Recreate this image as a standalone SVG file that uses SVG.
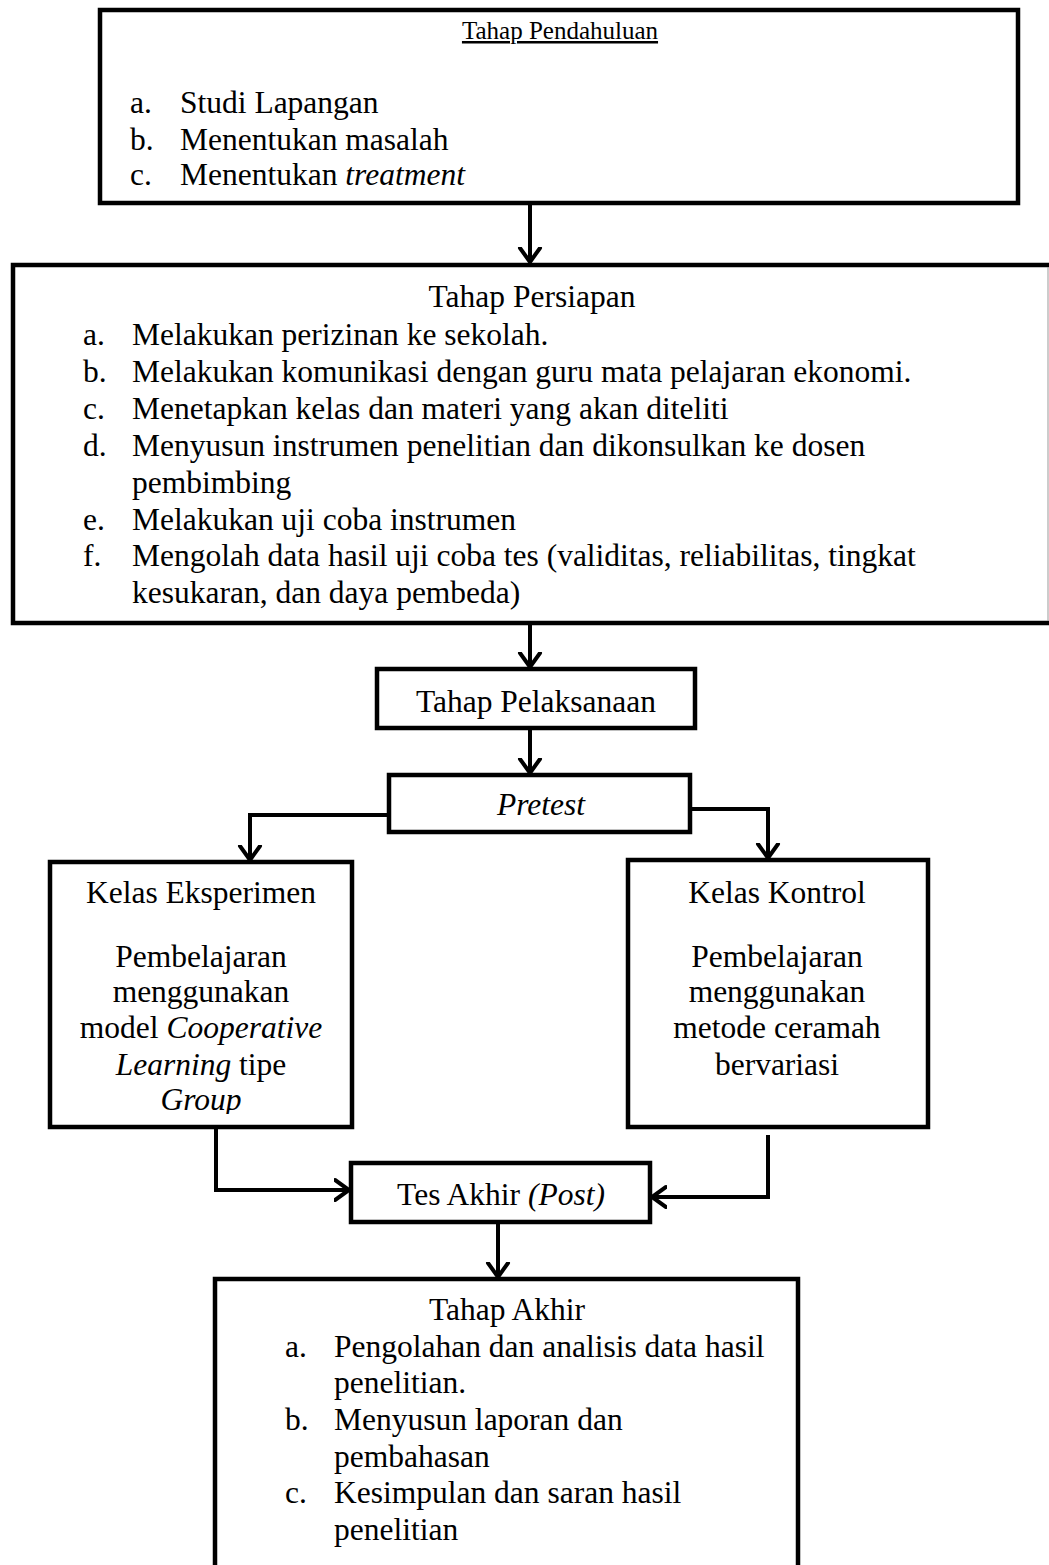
<svg xmlns="http://www.w3.org/2000/svg" width="1049" height="1565" viewBox="0 0 1049 1565">
<style>
.box{fill:#fff;stroke:#000;stroke-width:4.5}
.t{font-family:"Liberation Serif","Times New Roman",serif;font-size:31.5px;fill:#000}
.c{text-anchor:middle}
.i{font-style:italic}
.con{fill:none;stroke:#000;stroke-width:4}
</style>
<defs>
<marker id="ah" markerUnits="userSpaceOnUse" markerWidth="30" markerHeight="30" viewBox="-15 -15 30 30" refX="0" refY="0" orient="auto">
<path d="M-14,-10 L0,0 L-14,10" fill="none" stroke="#000" stroke-width="4" stroke-linecap="round" stroke-linejoin="miter"/>
</marker>
<clipPath id="clipG"><rect x="50" y="862" width="302" height="252"/></clipPath>
</defs>
<rect width="1049" height="1565" fill="#fff"/>

<g id="pendahuluan">
<rect class="box" x="100" y="10" width="918" height="193"/>
<text class="t c" x="560" y="39" style="font-size:25px" text-decoration="underline">Tahap Pendahuluan</text>
<text class="t" x="130" y="113">a.</text><text class="t" x="180" y="113">Studi Lapangan</text>
<text class="t" x="130" y="150">b.</text><text class="t" x="180" y="150">Menentukan masalah</text>
<text class="t" x="130" y="185">c.</text><text class="t" x="180" y="185">Menentukan <tspan class="i">treatment</tspan></text>
</g>

<g id="persiapan">
<rect class="box" x="13" y="265" width="1060" height="358"/>
<line x1="1048" y1="267" x2="1048" y2="621" stroke="#999" stroke-width="1"/>
<text class="t c" x="532" y="307">Tahap Persiapan</text>
<text class="t" x="83" y="345">a.</text><text class="t" x="132" y="345">Melakukan perizinan ke sekolah.</text>
<text class="t" x="83" y="382">b.</text><text class="t" x="132" y="382">Melakukan komunikasi dengan guru mata pelajaran ekonomi.</text>
<text class="t" x="83" y="419">c.</text><text class="t" x="132" y="419">Menetapkan kelas dan materi yang akan diteliti</text>
<text class="t" x="83" y="456">d.</text><text class="t" x="132" y="456">Menyusun instrumen penelitian dan dikonsulkan ke dosen</text>
<text class="t" x="132" y="493">pembimbing</text>
<text class="t" x="83" y="530">e.</text><text class="t" x="132" y="530">Melakukan uji coba instrumen</text>
<text class="t" x="83" y="566">f.</text><text class="t" x="132" y="566">Mengolah data hasil uji coba tes (validitas, reliabilitas, tingkat</text>
<text class="t" x="132" y="603">kesukaran, dan daya pembeda)</text>
</g>

<g id="pelaksanaan">
<rect class="box" x="377" y="669" width="318" height="59"/>
<text class="t c" x="536" y="712">Tahap Pelaksanaan</text>
</g>

<g id="pretest">
<rect class="box" x="389" y="775" width="301" height="57"/>
<text class="t c i" x="541" y="815">Pretest</text>
</g>

<g id="eksperimen">
<rect class="box" x="50" y="862" width="302" height="265"/>
<text class="t c" x="201" y="903">Kelas Eksperimen</text>
<text class="t c" x="201" y="967">Pembelajaran</text>
<text class="t c" x="201" y="1002">menggunakan</text>
<text class="t c" x="201" y="1038">model <tspan class="i">Cooperative</tspan></text>
<text class="t c" x="201" y="1075"><tspan class="i">Learning</tspan> tipe</text>
<text class="t c i" x="201" y="1110" clip-path="url(#clipG)">Group</text>
</g>

<g id="kontrol">
<rect class="box" x="628" y="860" width="300" height="267"/>
<text class="t c" x="777" y="903">Kelas Kontrol</text>
<text class="t c" x="777" y="967">Pembelajaran</text>
<text class="t c" x="777" y="1002">menggunakan</text>
<text class="t c" x="777" y="1038">metode ceramah</text>
<text class="t c" x="777" y="1075">bervariasi</text>
</g>

<g id="tesakhir">
<rect class="box" x="351" y="1163" width="299" height="59"/>
<text class="t c" x="501" y="1205">Tes Akhir <tspan class="i">(Post)</tspan></text>
</g>

<g id="akhir">
<rect class="box" x="215" y="1279" width="583" height="320"/>
<text class="t c" x="507" y="1320">Tahap Akhir</text>
<text class="t" x="285" y="1357">a.</text><text class="t" x="334" y="1357">Pengolahan dan analisis data hasil</text>
<text class="t" x="334" y="1393">penelitian.</text>
<text class="t" x="285" y="1430">b.</text><text class="t" x="334" y="1430">Menyusun laporan dan</text>
<text class="t" x="334" y="1467">pembahasan</text>
<text class="t" x="285" y="1503">c.</text><text class="t" x="334" y="1503">Kesimpulan dan saran hasil</text>
<text class="t" x="334" y="1540">penelitian</text>
</g>

<g id="connectors">
<path class="con" d="M530,203 V262" marker-end="url(#ah)"/>
<path class="con" d="M530,623 V667" marker-end="url(#ah)"/>
<path class="con" d="M530,728 V773" marker-end="url(#ah)"/>
<path class="con" d="M389,815 H250 V860" marker-end="url(#ah)"/>
<path class="con" d="M690,809 H768 V858" marker-end="url(#ah)"/>
<path class="con" d="M216,1127 V1190 H349" marker-end="url(#ah)"/>
<path class="con" d="M768,1135 V1197 H652" marker-end="url(#ah)"/>
<path class="con" d="M498,1222 V1277" marker-end="url(#ah)"/>
</g>
</svg>
